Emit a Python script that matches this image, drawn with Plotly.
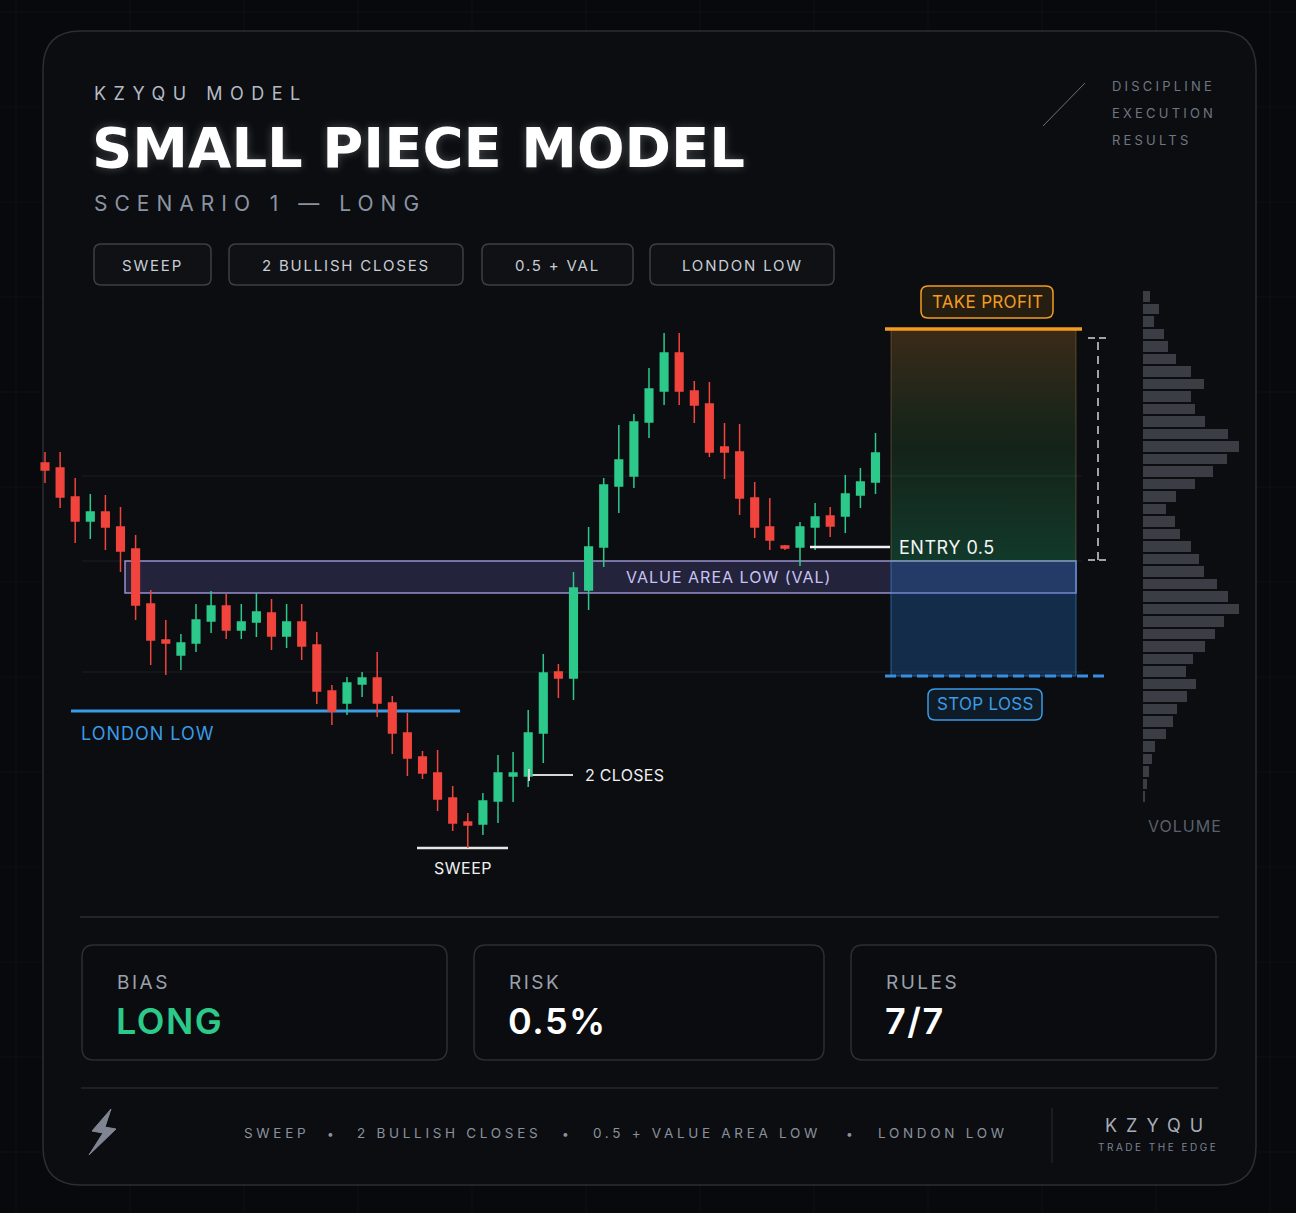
import plotly.graph_objects as go

W, H = 1296, 1213

# ---------------- data ----------------
bars = list(range(1, 57))
candle_open = [537, 532, 503, 479, 488, 473, 451, 396, 360, 345, 357, 379, 394, 370, 378, 387, 364, 378, 355, 309,
               297, 316, 322, 297, 267, 243, 227, 202, 178, 176, 199, 224, 224, 267, 328, 322, 410, 453, 514, 524,
               578, 609, 647, 609, 596, 553, 548, 502, 473, 454, 453, 473, 484, 484, 505, 518]
candle_close = [530, 503, 479, 488, 473, 449, 395, 360, 357, 357, 380, 394, 370, 378, 388, 364, 378, 354, 309, 289,
                317, 322, 297, 267, 242, 227, 201, 177, 175, 199, 227, 227, 267, 327, 322, 412, 453, 515, 540, 578,
                611, 647, 609, 595, 548, 548, 502, 473, 460, 452, 473, 483, 474, 506, 518, 547]
candle_high = [548, 548, 522, 506, 505, 493, 465, 410, 380, 366, 396, 409, 406, 396, 407, 401, 396, 396, 368, 315,
               323, 328, 348, 304, 287, 249, 250, 214, 187, 207, 245, 248, 290, 346, 336, 428, 473, 522, 575, 586,
               632, 667, 667, 619, 618, 577, 576, 518, 502, 455, 478, 497, 493, 525, 532, 567]
candle_low = [517, 492, 457, 461, 450, 428, 380, 335, 325, 330, 348, 367, 361, 361, 363, 350, 352, 340, 296, 275,
              285, 303, 283, 246, 224, 221, 189, 169, 152, 165, 177, 198, 213, 237, 302, 300, 390, 433, 487, 512,
              562, 595, 595, 577, 543, 521, 485, 462, 450, 450, 434, 450, 463, 467, 492, 506]

# key price levels
take_profit = 671
entry_level = 453
val_high = 439
val_low = 407
stop_loss = 324
london_low = 289
sweep_low = 152
two_closes_level = 225
grid_levels = [524, 439, 328]

# volume profile
volume_price = [703.5, 691, 678.5, 666, 653.5, 641, 628.5, 616, 603.5, 591, 578.5, 566, 553.5, 541, 528.5, 516,
                503.5, 491, 478.5, 466, 453.5, 441, 428.5, 416, 403.5, 391, 378.5, 366, 353.5, 341, 328.5, 316,
                303.5, 291, 278.5, 266, 253.5, 241, 228.5, 216, 203.5]
volume_size = [7, 16, 11, 21, 25, 33, 48, 61, 48, 52, 62, 85, 96, 84, 70, 52, 33, 23, 32, 37, 48, 56, 61, 74, 85,
               96, 81, 72, 62, 50, 43, 53, 44, 34, 30, 23, 12, 9, 6, 4, 2]

tags = ["SWEEP", "2 BULLISH CLOSES", "0.5 + VAL", "LONDON LOW"]
footer_items = ["SWEEP", "2 BULLISH CLOSES", "0.5 + VALUE AREA LOW", "LONDON LOW"]
stat_labels = ["BIAS", "RISK", "RULES"]
stat_values = ["LONG", "0.5%", "7/7"]

# ---------------- helpers ----------------
FONT = "Inter"
RED = "#f0443c"
GREEN = "#2cc98a"
ORANGE = "#f39c1f"
BLUE = "#3a9be6"


def px(x):
    return x / W


def py(y):
    return 1 - y / H


def rrect(x0, y0, x1, y1, r):
    pts = [
        f"M{px(x0 + r)},{py(y0)}", f"L{px(x1 - r)},{py(y0)}", f"Q{px(x1)},{py(y0)} {px(x1)},{py(y0 + r)}",
        f"L{px(x1)},{py(y1 - r)}", f"Q{px(x1)},{py(y1)} {px(x1 - r)},{py(y1)}",
        f"L{px(x0 + r)},{py(y1)}", f"Q{px(x0)},{py(y1)} {px(x0)},{py(y1 - r)}",
        f"L{px(x0)},{py(y0 + r)}", f"Q{px(x0)},{py(y0)} {px(x0 + r)},{py(y0)}", "Z"]
    return " ".join(pts)


shapes = []
annotations = []


def txt(x, y, s, size, color, anchor="left", spacing=None, weight="normal", family=FONT, shadow=None,
        yval=None):
    if spacing:
        s = f'<span style="letter-spacing:{spacing}px">{s}</span>'
    f = dict(size=size, color=color, family=family, weight=weight)
    if shadow:
        f["shadow"] = shadow
    annotations.append(dict(x=px(x), y=py(y) if yval is None else yval, xref="paper",
                            yref="paper" if yval is None else "y", text=s, showarrow=False,
                            xanchor=anchor, yanchor="middle", font=f, borderpad=0))


def pline(x0, y0, x1, y1, color, width=1, dash=None, layer="below"):
    shapes.append(dict(type="line", xref="paper", yref="paper", x0=px(x0), y0=py(y0), x1=px(x1), y1=py(y1),
                       line=dict(color=color, width=width, dash=dash), layer=layer))


def hline(x0, x1, level, color, width=1, dash=None, layer="below"):
    shapes.append(dict(type="line", xref="x3", yref="y", x0=x0, x1=x1, y0=level, y1=level,
                       line=dict(color=color, width=width, dash=dash), layer=layer))


# ---------------- background ----------------
for gx in range(16, W, 114):
    pline(gx, 0, gx, H, "rgba(255,255,255,0.035)")
for gy in range(12, H, 95):
    pline(0, gy, W, gy, "rgba(255,255,255,0.035)")

shapes.append(dict(type="path", xref="paper", yref="paper", path=rrect(43, 31, 1256, 1185, 38),
                   fillcolor="#0b0d11", line=dict(color="#2b2e35", width=1.5), layer="below"))

# header
txt(93, 94, "KZYQU MODEL", 18, "#b4bac4", spacing=7.5)
txt(91, 148, "SMALL PIECE MODEL", 56, "#ffffff", weight="bold", family="DejaVu Sans",
    shadow="0px 0px 10px rgba(255,255,255,0.25)")
txt(93, 203, "SCENARIO 1 — LONG", 21, "#8c94a3", spacing=7)

pline(1043, 126, 1085, 83, "#6b717c", 1, layer="above")
for label, yy in zip(["DISCIPLINE", "EXECUTION", "RESULTS"], [86, 113, 140]):
    txt(1111, yy, label, 13, "#6f7682", spacing=3.2)

pill_x = [(94, 211), (229, 463), (482, 633), (650, 834)]
for (x0, x1), t in zip(pill_x, tags):
    shapes.append(dict(type="path", xref="paper", yref="paper", path=rrect(x0, 244, x1, 285, 7),
                       fillcolor="#0f1115", line=dict(color="#3b3f47", width=1.5), layer="below"))
    txt((x0 + x1) / 2, 265, t, 15, "#c9cdd5", anchor="center", spacing=1.8)

# ---------------- chart overlays ----------------
for lv in grid_levels:
    hline(82, 1082, lv, "rgba(255,255,255,0.07)", 1)

# value area low band
shapes.append(dict(type="rect", xref="x3", yref="y", x0=125, x1=1076, y0=val_low, y1=val_high,
                   fillcolor="rgba(125,115,215,0.22)", line=dict(color="rgba(175,165,235,0.85)", width=1.5),
                   layer="below"))
txt(728, 0, "VALUE AREA LOW (VAL)", 16, "#c9c3f3", anchor="center", spacing=1,
    yval=(val_high + val_low) / 2)

# london low
hline(71, 460, london_low, BLUE, 3)
txt(80, 733, "LONDON LOW", 18, BLUE, spacing=1)

# sweep
hline(417, 508, sweep_low, "#e6e6e6", 2.5)
txt(463, 868, "SWEEP", 16, "#f0f0f0", anchor="center", spacing=0.5)

# 2 closes
hline(529, 573, two_closes_level, "#d6d6d6", 2)
shapes.append(dict(type="line", xref="x3", yref="y", x0=529, x1=529, y0=two_closes_level - 6,
                   y1=two_closes_level + 6, line=dict(color="#d6d6d6", width=2), layer="above"))
txt(584, 775, "2 CLOSES", 16, "#f0f0f0", spacing=0.3)

# entry
hline(810, 890, entry_level, "#f2f2f2", 2.5, layer="above")
txt(898, 0, "ENTRY 0.5", 18, "#f4f4f4", spacing=0.5, yval=entry_level)

# stop zone
shapes.append(dict(type="rect", xref="x3", yref="y", x0=891, x1=1076, y0=stop_loss, y1=val_high,
                   fillcolor="rgba(40,115,205,0.30)", line=dict(color="rgba(70,150,230,0.55)", width=1),
                   layer="below"))

# TP / SL lines
hline(885, 1082, take_profit, ORANGE, 3.5, layer="above")
hline(885, 1107, stop_loss, "#3a8ee0", 3, dash="11px,5px", layer="above")

# measurement
shapes.append(dict(type="line", xref="x3", yref="y", x0=1098, x1=1098, y0=val_high + 1, y1=take_profit - 9,
                   line=dict(color="#d4d4d4", width=1.5, dash="8px,6px"), layer="above"))
hline(1088, 1107, take_profit - 9, "#d4d4d4", 1.5, dash="7px,4px", layer="above")
hline(1088, 1107, val_high + 1, "#d4d4d4", 1.5, dash="7px,4px", layer="above")

# labels for TP / SL
shapes.append(dict(type="path", xref="paper", yref="paper", path=rrect(921, 286, 1053, 318, 7),
                   fillcolor="rgba(243,156,31,0.12)", line=dict(color=ORANGE, width=1.5), layer="above"))
txt(987, 302, "TAKE PROFIT", 17, ORANGE, anchor="center", spacing=0.3)
shapes.append(dict(type="path", xref="paper", yref="paper", path=rrect(928, 689, 1042, 720, 7),
                   fillcolor="rgba(59,155,232,0.10)", line=dict(color=BLUE, width=1.5), layer="above"))
txt(985, 704, "STOP LOSS", 17, BLUE, anchor="center", spacing=0.3)

txt(1185, 826, "VOLUME", 16, "#59606b", anchor="center", spacing=1)

# ---------------- bottom ----------------
pline(80, 917, 1219, 917, "#2a2d34", 1.5)
card_x = [(82, 447), (474, 824), (851, 1216)]
value_colors = [GREEN, "#ffffff", "#ffffff"]
for (x0, x1), lab, val, col in zip(card_x, stat_labels, stat_values, value_colors):
    shapes.append(dict(type="path", xref="paper", yref="paper", path=rrect(x0, 945, x1, 1060, 12),
                       fillcolor="#0a0c0f", line=dict(color="#2b2e35", width=1.5), layer="below"))
    txt(x0 + 34, 982, lab, 19, "#9aa1ac", spacing=2.5)
    txt(x0 + 33, 1021, val, 36, col, spacing=1.5, weight=600)

pline(81, 1088, 1218, 1088, "#25282e", 1.5)

# footer logo
logo = [(111, 1109), (92, 1131), (103, 1133), (89, 1155), (116, 1129), (105, 1127), (111, 1109)]
logo_path = "M" + " L".join(f"{px(a)},{py(b)}" for a, b in logo) + " Z"
shapes.append(dict(type="path", xref="paper", yref="paper", path=logo_path, fillcolor="#7f8592",
                   line=dict(color="#7f8592", width=1), layer="above"))

footer_x = [243, 356, 592, 877]
bullet_x = [330, 565, 849]
for fx, item in zip(footer_x, footer_items):
    txt(fx, 1133, item, 13.5, "#8b919c", spacing=3.7)
for bx in bullet_x:
    txt(bx, 1133, "•", 12, "#8b919c", anchor="center")

pline(1052, 1108, 1052, 1163, "#2a2d34", 1)
txt(1158, 1125, "KZYQU", 18, "#a7adb8", anchor="center", spacing=9)
txt(1158, 1147, "TRADE THE EDGE", 10, "#7d8390", anchor="center", spacing=2.5)

# ---------------- traces ----------------
fig = go.Figure()
fig.add_trace(go.Candlestick(
    x=bars, open=candle_open, high=candle_high, low=candle_low, close=candle_close,
    increasing=dict(line=dict(color=GREEN, width=1.5), fillcolor=GREEN),
    decreasing=dict(line=dict(color=RED, width=1.5), fillcolor=RED),
    whiskerwidth=0, hoverinfo="skip", showlegend=False, xaxis="x", yaxis="y"))

fig.add_trace(go.Bar(
    x=volume_size, y=volume_price, orientation="h", width=10.5, marker=dict(color="#3a3d44", line=dict(width=0)),
    xaxis="x2", yaxis="y", hoverinfo="skip", showlegend=False))

fig.add_trace(go.Scatter(
    x=[891, 1076, 1076, 891, 891], y=[take_profit, take_profit, val_high, val_high, take_profit],
    mode="lines", fill="toself", line=dict(color="rgba(190,150,90,0.35)", width=1),
    fillgradient=dict(type="vertical", colorscale=[[0, "rgba(35,200,125,0.24)"], [0.5, "rgba(70,150,70,0.16)"],
                                                   [1, "rgba(215,135,45,0.24)"]]),
    xaxis="x3", yaxis="y", hoverinfo="skip", showlegend=False))

step = 15.1
first_px = 45
fig.update_layout(
    width=W, height=H, margin=dict(l=0, r=0, t=0, b=0),
    paper_bgcolor="#07090c", plot_bgcolor="rgba(0,0,0,0)",
    xaxis=dict(domain=[0, 1], range=[bars[0] - first_px / step, bars[0] + (W - first_px) / step],
               visible=False, rangeslider=dict(visible=False), fixedrange=True),
    xaxis2=dict(overlaying="x", anchor="y", range=[-1143, W - 1143], visible=False),
    xaxis3=dict(overlaying="x", anchor="y", range=[0, W], visible=False),
    yaxis=dict(domain=[0, 1], range=[1000 - H, 1000], visible=False),
    boxgap=0.28, bargap=0,
    shapes=shapes, annotations=annotations, showlegend=False,
)

fig.write_html("out.html", config=dict(displayModeBar=False, staticPlot=True),
               post_script="document.body.style.margin='0';document.body.style.overflow='hidden';"
                           "document.body.style.background='#07090c';")
